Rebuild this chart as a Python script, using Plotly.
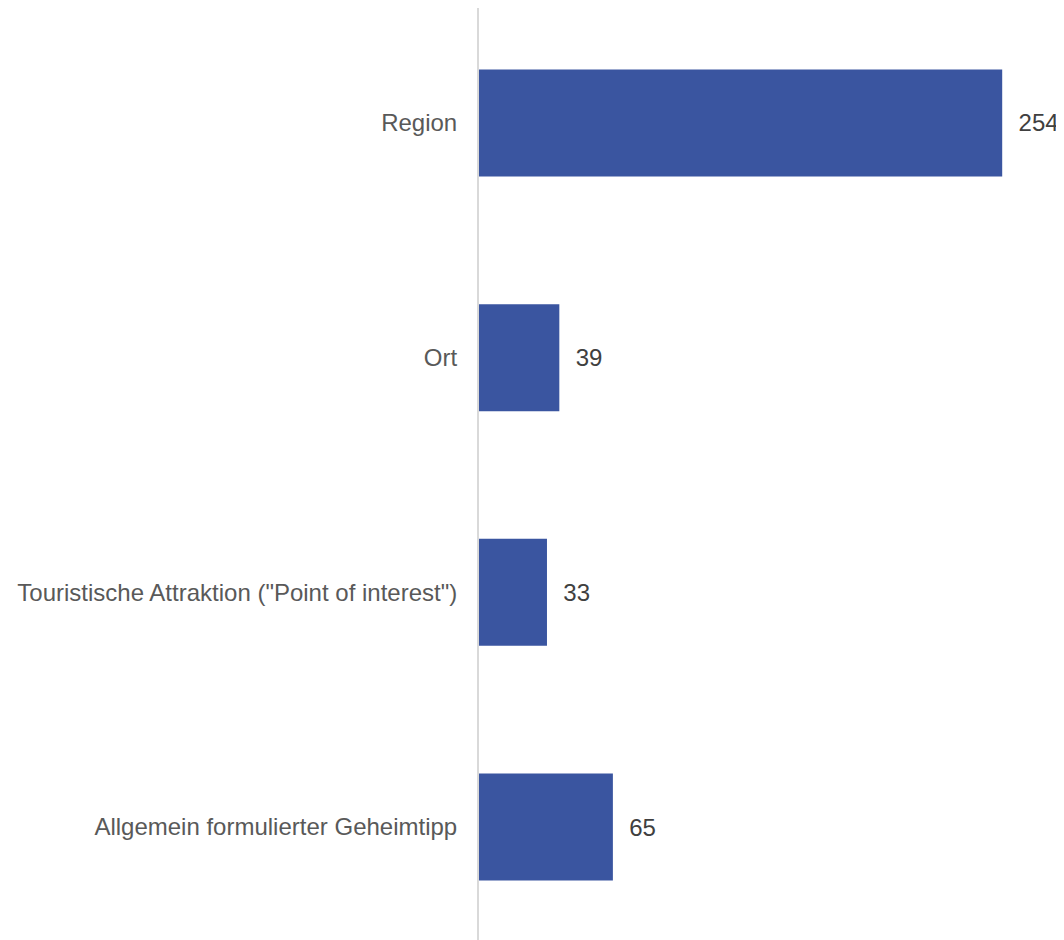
import plotly.graph_objects as go

categories = ["Region", "Ort", "Touristische Attraktion (\"Point of interest\")",
              "Allgemein formulierter Geheimtipp"]
values = [254, 39, 33, 65]

fig = go.Figure()
fig.add_trace(go.Bar(
    y=categories, x=values, orientation="h",
    marker=dict(color="#3A55A0", line=dict(width=0)),
    text=values, texttemplate="\u00a0\u00a0%{x}", textposition="outside",
    textfont=dict(family="Liberation Sans, Arial, sans-serif", size=24, color="#404040"),
    cliponaxis=False,
))

# page body adds an 8px margin, so the figure is 8px smaller than the window
fig.update_layout(
    width=1056, height=932,
    margin=dict(l=471, r=0, t=0, b=0),
    paper_bgcolor="white", plot_bgcolor="white",
    bargap=0.544, showlegend=False,
    font=dict(family="Liberation Sans, Arial, sans-serif", size=24, color="#595959"),
)
fig.update_yaxes(range=[3.4815, -0.49], showgrid=False, ticks="",
                 showline=True, linecolor="#D9D9D9", linewidth=2,
                 ticklabelstandoff=15)
fig.update_xaxes(range=[0, 284], visible=False)

fig.write_html("out.html")
